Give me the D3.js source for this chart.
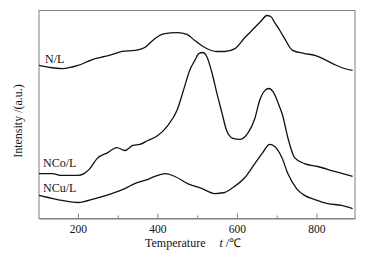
<!DOCTYPE html>
<html>
<head>
<meta charset="utf-8">
<script src="https://cdn.jsdelivr.net/npm/d3@7"></script>
<style>
  body { margin: 0; background: #fff; }
  text { font-family: "Liberation Serif", "Times New Roman", serif; }
</style>
</head>
<body>
<svg id="drawing_region"></svg>
<script>
// temperatures (t / °C) and intensities (a.u.)
const tN  = [102,130,160,200,225,243,268,285,311,343,368,388,411,431,451,474,494,519,549,569,595,620,645,662,675,685,695,708,720,740,770,796,821,846,863,891]
const vN  = [73.6,72.6,72.1,73.6,75.5,76.9,77.9,78.8,80.3,80.8,82.2,85.6,88.5,89.2,89.4,88.5,85.6,82.2,80.3,80.3,81.7,87,91.8,95.2,97.6,97.1,94.2,90.4,86.5,80.8,79.3,78.4,76.4,74,72.6,71.2]

const tCo = [102,135,160,200,215,230,248,275,298,318,338,356,376,401,426,449,469,481,494,504,514,524,537,549,562,574,590,607,627,645,657,670,680,692,705,715,728,745,770,803,846,891]
const vCo = [21.6,21.6,20.7,20.7,21.6,24,28.8,31.7,34.1,32.7,35.1,35.6,37.5,39.9,44.7,51.9,63.9,71.2,76,79.3,79.8,77.9,70.2,60.6,51,42.3,38.5,38,40.9,48.1,56.7,61.5,62.5,60.6,54.8,49.5,38.9,29.3,26.4,25,22.6,20.2]

const tCu = [102,125,160,200,243,285,318,343,368,394,419,444,476,512,544,569,590,620,645,665,682,695,713,728,750,770,796,828,863,891]
const vCu = [11.1,10.1,8.7,7.7,9.6,12,14.4,16.8,18.3,20.2,21.6,20.2,16.8,14.4,12,12.5,14.9,19.7,26.4,31.7,35.6,34.6,29.3,21.6,14.4,11.1,9.1,7.2,6.3,4.8]

const seriesNames = ['N/L', 'NCo/L', 'NCu/L']
const majorTicks = [200, 400, 600, 800]
const minorTicks = [300, 500, 700]

const config = {
    parent: '#drawing_region',
    width: 375,
    height: 253,
    margin: {top: 10.5, right: 20, bottom: 34.5, left: 39}
}

const svg = d3.select(config.parent)
    .attr('width', config.width)
    .attr('height', config.height)

const innerW = config.width - config.margin.left - config.margin.right
const innerH = config.height - config.margin.top - config.margin.bottom

const x = d3.scaleLinear().domain([102, 897]).range([0, innerW])
const y = d3.scaleLinear().domain([0, 100]).range([innerH, 0])

const chart = svg.append('g')
    .attr('transform', `translate(${config.margin.left},${config.margin.top})`)

// frame
chart.append('rect')
    .attr('width', innerW).attr('height', innerH)
    .attr('fill', 'none').attr('stroke', '#808080').attr('stroke-width', 1)

// x axis, ticks pointing inward
const xAxis = chart.append('g')
    .attr('transform', `translate(0,${innerH})`)
    .call(d3.axisBottom(x).tickValues(majorTicks).tickSizeInner(-5).tickSizeOuter(0).tickPadding(6))
xAxis.select('.domain').attr('stroke', '#808080')
xAxis.selectAll('.tick line').attr('stroke', '#808080')
xAxis.selectAll('.tick text')
    .attr('font-size', 11.5).attr('fill', '#111')
    .style('font-family', '"Liberation Serif", serif')

const xMinor = chart.append('g')
    .attr('transform', `translate(0,${innerH})`)
    .call(d3.axisBottom(x).tickValues(minorTicks).tickSize(-3).tickFormat(''))
xMinor.select('.domain').remove()
xMinor.selectAll('.tick line').attr('stroke', '#808080')

// axis titles
const xt = svg.append('text')
    .attr('x', 145).attr('y', 247)
    .attr('font-size', 12).attr('fill', '#111')
xt.append('tspan').text('Temperature')
xt.append('tspan').attr('dx', 14).attr('font-style', 'italic').text('t')
xt.append('tspan').text(' /℃')

svg.append('text')
    .attr('transform', 'translate(21.5,121) rotate(-90)')
    .attr('text-anchor', 'middle')
    .attr('font-size', 12).attr('fill', '#111')
    .text('Intensity /(a.u.)')

// curves
const line = d3.line()
    .x(d => x(d[0]))
    .y(d => y(d[1]))
    .curve(d3.curveMonotoneX)

const curves = [
    {name: seriesNames[0], data: d3.zip(tN, vN), lx: 45, ly: 63},
    {name: seriesNames[1], data: d3.zip(tCo, vCo), lx: 43, ly: 167},
    {name: seriesNames[2], data: d3.zip(tCu, vCu), lx: 43, ly: 192}
]

chart.selectAll('path.curve').data(curves).enter()
    .append('path')
    .attr('class', 'curve')
    .attr('d', d => line(d.data))
    .attr('fill', 'none')
    .attr('stroke', '#111')
    .attr('stroke-width', 1.3)

svg.selectAll('text.lbl').data(curves).enter()
    .append('text')
    .attr('class', 'lbl')
    .attr('x', d => d.lx).attr('y', d => d.ly)
    .attr('font-size', 12).attr('fill', '#111')
    .text(d => d.name)
</script>
</body>
</html>
